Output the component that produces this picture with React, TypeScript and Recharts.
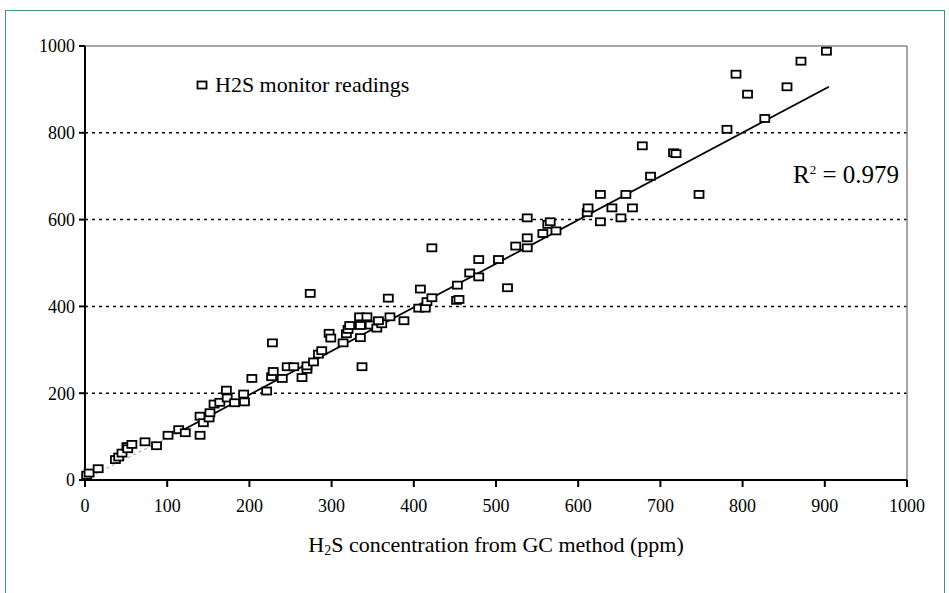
import React from 'react';
import {
  ScatterChart,
  Scatter,
  XAxis,
  YAxis,
  CartesianGrid,
  ReferenceLine,
} from 'recharts';

// GC method (ppm) vs H2S monitor reading
const gcValues = [
  2, 5, 16, 37, 41, 45, 51, 52, 57, 73, 87, 101, 114, 122, 140, 140, 144, 151, 152, 157,
  164, 172, 173, 182, 193, 194, 203, 221, 227, 229, 228, 240, 246, 254, 264, 270, 270, 274, 278, 284,
  288, 297, 299, 314, 318, 320, 322, 334, 343, 335, 335, 337, 347, 355, 361, 357, 369, 371, 388, 406,
  408, 414, 416, 422, 422, 452, 455, 453, 468, 479, 479, 503, 514, 524, 538, 538, 538, 557, 563, 566,
  573, 611, 612, 627, 627, 641, 652, 658, 666, 678, 688, 716, 719, 747, 781, 792, 806, 827, 854, 871,
  902,
];
const monitorValues = [
  11, 16, 26, 47, 53, 62, 77, 72, 82, 88, 79, 103, 116, 109, 103, 147, 132, 143, 155, 175,
  179, 207, 189, 178, 198, 180, 234, 205, 238, 250, 316, 234, 261, 261, 236, 255, 263, 430, 272, 290,
  298, 338, 327, 316, 337, 347, 356, 376, 376, 356, 328, 261, 357, 350, 360, 367, 419, 376, 367, 396,
  440, 396, 411, 420, 535, 414, 416, 449, 477, 508, 468, 508, 443, 539, 558, 535, 604, 568, 589, 595,
  574, 616, 627, 658, 595, 627, 604, 658, 627, 770, 700, 754, 752, 658, 808, 935, 889, 833, 906, 965,
  988,
];

// fitted trend line, read at its ends
const trendX = [110, 905];
const trendY = [106, 906];
const trendStartX = [0, 110];
const trendStartY = [2, 106];

const xTicks = [0, 100, 200, 300, 400, 500, 600, 700, 800, 900, 1000];
const yTicks = [0, 200, 400, 600, 800, 1000];

const points = gcValues.map((x, i) => ({ x, y: monitorValues[i] }));
const trend = trendX.map((x, i) => ({ x, y: trendY[i] }));
const trendStart = trendStartX.map((x, i) => ({ x, y: trendStartY[i] }));

const FONT = '"Liberation Serif", "Times New Roman", serif';

const SquareMark = (props: any) => {
  const { cx, cy } = props;
  if (cx == null || cy == null) return <g />;
  return (
    <rect x={cx - 4.5} y={cy - 3.5} width={9} height={7} fill="#fff" stroke="#000" strokeWidth={1.8} />
  );
};

const NoMark = () => <g />;

const XTitle = (props: any) => {
  const { viewBox } = props;
  const cx = viewBox.x + viewBox.width / 2;
  return (
    <text x={cx} y={viewBox.y + 72} textAnchor="middle" fontFamily={FONT} fontSize={22} fill="#000">
      <tspan>H</tspan>
      <tspan fontSize={14} dy={3}>2</tspan>
      <tspan dy={-3}>S concentration from GC method (ppm)</tspan>
    </text>
  );
};

export default function App() {
  return (
    <div style={{ position: 'absolute', left: 0, top: 0, width: 949, height: 593, background: '#fff', overflow: 'hidden' }}>
      <div
        style={{
          position: 'absolute',
          left: 5,
          top: 10,
          width: 940,
          height: 600,
          border: '1.5px solid #3a9494',
          boxSizing: 'border-box',
        }}
      />
      <ScatterChart
        width={949}
        height={593}
        margin={{ top: 46, right: 42, bottom: 73, left: 0 }}
        style={{ position: 'absolute', left: 0, top: 0 }}
      >
        <CartesianGrid
          vertical={false}
          stroke="#000"
          strokeWidth={1.5}
          strokeDasharray="3 4"
          horizontalValues={[200, 400, 600, 800]}
        />
        <ReferenceLine y={1000} stroke="#888" strokeWidth={1.5} />
        <ReferenceLine x={1000} stroke="#888" strokeWidth={1.5} />
        <XAxis
          type="number"
          dataKey="x"
          domain={[0, 1000]}
          ticks={xTicks}
          interval={0}
          height={40}
          tickSize={7}
          tickMargin={12}
          stroke="#000"
          axisLine={{ stroke: '#000', strokeWidth: 2 }}
          tickLine={{ stroke: '#000', strokeWidth: 2 }}
          tick={{ fontFamily: FONT, fontSize: 18, fill: '#000' }}
          label={<XTitle />}
        />
        <YAxis
          type="number"
          dataKey="y"
          domain={[0, 1000]}
          ticks={yTicks}
          interval={0}
          width={85}
          tickSize={6}
          tickMargin={4}
          axisLine={{ stroke: '#000', strokeWidth: 2 }}
          tickLine={{ stroke: '#000', strokeWidth: 2 }}
          tick={{ fontFamily: FONT, fontSize: 18, fill: '#000' }}
        />
        <Scatter
          data={trendStart}
          shape={<NoMark />}
          line={{ stroke: '#999', strokeWidth: 1, strokeDasharray: '3 3' }}
          legendType="none"
          isAnimationActive={false}
        />
        <Scatter
          data={trend}
          shape={<NoMark />}
          line={{ stroke: '#000', strokeWidth: 1.8 }}
          legendType="none"
          isAnimationActive={false}
        />
        <Scatter
          name="H2S monitor readings"
          data={points}
          shape={<SquareMark />}
          isAnimationActive={false}
        />
      </ScatterChart>
      <div
        style={{
          position: 'absolute',
          left: 196,
          top: 72,
          display: 'flex',
          alignItems: 'center',
          fontFamily: FONT,
          fontSize: 22,
          color: '#000',
          whiteSpace: 'nowrap',
        }}
      >
        <svg width={14} height={10} style={{ marginRight: 5 }}>
          <rect x={1.5} y={1.5} width={9} height={7} fill="#fff" stroke="#000" strokeWidth={1.8} />
        </svg>
        <span>H2S monitor readings</span>
      </div>
      <div
        style={{
          position: 'absolute',
          left: 793,
          top: 161,
          fontFamily: FONT,
          fontSize: 25,
          color: '#000',
          whiteSpace: 'nowrap',
        }}
      >
        R<sup style={{ fontSize: 13 }}>2</sup> = 0.979
      </div>
    </div>
  );
}
